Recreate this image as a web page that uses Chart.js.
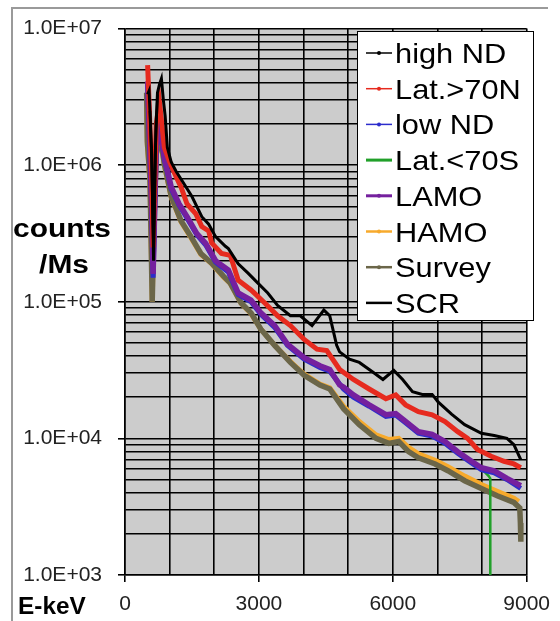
<!DOCTYPE html>
<html>
<head>
<meta charset="utf-8">
<script src="https://cdn.jsdelivr.net/npm/chart.js@4.4.1/dist/chart.umd.min.js"></script>
<style>
  html, body { margin: 0; padding: 0; background: #fff; }
  #wrap { position: relative; width: 560px; height: 621px; }
</style>
</head>
<body>
<div id="wrap"><canvas id="spectrumChart" width="560" height="621"></canvas></div>
<script>
// Energy (keV) and rate (counts/Ms), one pair of arrays per series
const highNdKeV = [507, 540, 600, 640, 690, 728, 772, 816, 860, 900, 949, 1037, 1147, 1279, 1500, 1721, 1875, 2029, 2250, 2316, 2537, 2757, 2978, 3199, 3419, 3706, 3927, 4191, 4456, 4588, 4743, 4809, 5030, 5250, 5559, 5780, 6022, 6221, 6442, 6662, 6883, 7015, 7324, 7611, 7986, 8273, 8559, 8714, 8868];
const highNdCounts = [3.3e6, 3.5e6, 1.2e6, 2.0e5, 1.8e6, 3.4e6, 3.9e6, 4.3e6, 3.0e6, 2.3e6, 1.35e6, 1.05e6, 9.0e5, 7.7e5, 5.9e5, 4.2e5, 3.7e5, 3.0e5, 2.55e5, 2.45e5, 1.9e5, 1.62e5, 1.37e5, 1.16e5, 9.4e4, 7.9e4, 7.9e4, 6.7e4, 8.7e4, 7.9e4, 4.8e4, 4.3e4, 3.8e4, 3.6e4, 3.05e4, 2.7e4, 3.15e4, 2.7e4, 2.2e4, 2.1e4, 2.1e4, 1.85e4, 1.5e4, 1.26e4, 1.09e4, 1.05e4, 1.0e4, 9.0e3, 7.0e3];

const lat70nKeV = [507, 530, 600, 630, 700, 772, 882, 993, 1147, 1257, 1390, 1588, 1721, 1875, 1941, 2162, 2360, 2537, 2824, 3132, 3419, 3706, 4015, 4302, 4522, 4809, 5118, 5471, 5846, 6067, 6287, 6574, 6883, 7170, 7456, 7677, 7898, 8206, 8493, 8714, 8868];
const lat70nCounts = [5.4e6, 3.5e6, 8.0e5, 2.5e5, 2.0e6, 2.9e6, 1.35e6, 1.07e6, 8.2e5, 6.9e5, 5.2e5, 4.4e5, 3.55e5, 3.3e5, 2.7e5, 2.26e5, 2.19e5, 1.44e5, 1.22e5, 9.8e4, 7.9e4, 6.7e4, 5.3e4, 4.5e4, 4.4e4, 3.2e4, 2.7e4, 2.3e4, 1.95e4, 2.08e4, 1.76e4, 1.57e4, 1.49e4, 1.33e4, 1.12e4, 1.0e4, 8.3e3, 7.4e3, 6.8e3, 6.5e3, 6.1e3];

const lowNdKeV = [507, 530, 600, 630, 700, 772, 882, 1037, 1213, 1390, 1610, 1809, 2029, 2316, 2537, 2824, 3044, 3353, 3640, 4015, 4368, 4588, 4897, 5118, 5471, 5846, 6067, 6287, 6574, 6883, 7170, 7456, 7765, 7986, 8273, 8559, 8868];
const lowNdCounts = [4.0e6, 2.4e6, 4.8e5, 1.5e5, 1.35e6, 2.0e6, 1.1e6, 6.7e5, 5.1e5, 4.1e5, 3.1e5, 2.6e5, 1.95e5, 1.65e5, 1.13e5, 1.0e5, 8.1e4, 6.5e4, 4.8e4, 3.8e4, 3.3e4, 3.1e4, 2.3e4, 2.0e4, 1.72e4, 1.45e4, 1.48e4, 1.3e4, 1.09e4, 1.04e4, 9.2e3, 7.8e3, 6.6e3, 5.9e3, 5.6e3, 5.0e3, 4.3e3];

const lat70sKeV = [7456, 7765, 7986, 8150, 8184, 8186];
const lat70sCounts = [8.0e3, 6.8e3, 6.0e3, 5.3e3, 5.1e3, 100];

const lamoKeV = [507, 530, 600, 630, 700, 772, 882, 1037, 1213, 1390, 1610, 1809, 2029, 2096, 2316, 2537, 2824, 3044, 3353, 3640, 4015, 4368, 4588, 4809, 4897, 5118, 5471, 5846, 6067, 6287, 6574, 6883, 7170, 7456, 7765, 7986, 8273, 8559, 8868];
const lamoCounts = [4.1e6, 2.5e6, 5.0e5, 1.6e5, 1.4e6, 2.08e6, 1.14e6, 6.9e5, 5.2e5, 4.2e5, 3.16e5, 2.68e5, 2.0e5, 1.92e5, 1.71e5, 1.16e5, 1.03e5, 8.3e4, 6.7e4, 4.9e4, 3.9e4, 3.4e4, 3.2e4, 2.46e4, 2.38e4, 2.08e4, 1.76e4, 1.49e4, 1.52e4, 1.33e4, 1.12e4, 1.07e4, 9.5e3, 8.0e3, 6.8e3, 6.1e3, 5.8e3, 5.1e3, 4.5e3];

const hamoKeV = [485, 500, 560, 610, 650, 700, 772, 882, 1037, 1257, 1478, 1699, 1941, 2206, 2360, 2603, 2824, 3044, 3353, 3706, 4015, 4368, 4588, 4897, 5250, 5625, 5912, 6133, 6353, 6574, 6949, 7236, 7611, 7986, 8339, 8714, 8824];
const hamoCounts = [3.2e6, 1.4e6, 7.5e5, 1.0e5, 3.8e5, 1.15e6, 1.7e6, 1.0e6, 5.8e5, 3.85e5, 2.95e5, 2.22e5, 1.9e5, 1.52e5, 1.36e5, 9.7e4, 8.2e4, 6.3e4, 4.8e4, 3.65e4, 2.95e4, 2.5e4, 2.35e4, 1.72e4, 1.33e4, 1.06e4, 9.8e3, 1.0e4, 8.6e3, 7.7e3, 6.9e3, 6.2e3, 5.3e3, 4.6e3, 4.1e3, 3.65e3, 3.45e3];

const surveyKeV = [485, 500, 560, 610, 650, 700, 772, 882, 1037, 1257, 1478, 1699, 1941, 2206, 2360, 2603, 2824, 3044, 3353, 3706, 4015, 4368, 4588, 4897, 5250, 5625, 5912, 6133, 6353, 6574, 6949, 7236, 7611, 7986, 8339, 8714, 8846, 8860, 8870];
const surveyCounts = [3.4e6, 1.5e6, 8.0e5, 1.0e5, 4.0e5, 1.2e6, 1.76e6, 1.02e6, 5.9e5, 3.9e5, 3.0e5, 2.26e5, 1.92e5, 1.54e5, 1.37e5, 9.8e4, 8.3e4, 6.3e4, 4.8e4, 3.6e4, 2.9e4, 2.46e4, 2.3e4, 1.65e4, 1.26e4, 1.0e4, 9.2e3, 9.5e3, 8.0e3, 7.2e3, 6.5e3, 5.8e3, 4.9e3, 4.3e3, 3.8e3, 3.4e3, 3.1e3, 2.4e3, 1.75e3];

const scrKeV = [560, 600, 640, 680, 728];
const scrCounts = [2.5e6, 9.0e5, 2.2e5, 1.2e6, 3.3e6];

// axis ticks
const xTickLabels = [0, 3000, 6000, 9000];
const yDecades = [1e3, 1e4, 1e5, 1e6, 1e7];
const yTickLabels = ['1.0E+03', '1.0E+04', '1.0E+05', '1.0E+06', '1.0E+07'];
const yMinorSteps = [2, 3, 4, 5, 6, 7, 8, 9];

// gridline values: decades plus 2..9 in between
const yGridValues = [];
yDecades.forEach((d, i) => {
    yGridValues.push(d);
    if (i < yDecades.length - 1) yMinorSteps.forEach(m => yGridValues.push(d * m));
});

function toPoints(keV, counts) {
    return keV.map((x, i) => ({ x: x, y: counts[i] }));
}

function isDecade(v) {
    return yDecades.some(d => Math.abs(v - d) < d * 1e-6);
}

const FONT = '"Liberation Sans", Arial, sans-serif';

// gray plot area, outer frame and the free-standing titles
const backdropPlugin = {
    id: 'backdrop',
    beforeDraw(chart) {
        const { ctx, chartArea } = chart;
        ctx.save();
        ctx.fillStyle = '#fff';
        ctx.fillRect(0, 0, chart.width, chart.height);
        ctx.fillStyle = '#cccccc';
        ctx.fillRect(chartArea.left, chartArea.top, chartArea.right - chartArea.left, chartArea.bottom - chartArea.top);
        ctx.strokeStyle = '#9a9a9a';
        ctx.lineWidth = 2;
        ctx.beginPath();
        ctx.moveTo(12, chart.height);
        ctx.lineTo(12, 8);
        ctx.lineTo(548, 8);
        ctx.stroke();
        ctx.restore();
    },
    afterDraw(chart) {
        const ctx = chart.ctx;
        ctx.save();
        ctx.fillStyle = '#000';
        ctx.textBaseline = 'alphabetic';
        ctx.textAlign = 'center';
        ctx.font = 'bold 26px ' + FONT;
        [['counts', 62, 237], ['/Ms', 64, 273]].forEach(([t, x, y]) => {
            ctx.save();
            ctx.translate(x, y);
            ctx.scale(1.15, 1);
            ctx.fillText(t, 0, 0);
            ctx.restore();
        });
        ctx.textAlign = 'left';
        ctx.font = 'bold 23px ' + FONT;
        ctx.save();
        ctx.translate(18, 614);
        ctx.scale(1.06, 1);
        ctx.fillText('E-keV', 0, 0);
        ctx.restore();
        ctx.restore();
    }
};

// boxed legend sitting inside the top right of the plot
const boxLegendPlugin = {
    id: 'boxLegend',
    afterDraw(chart) {
        const ctx = chart.ctx;
        const box = { left: 357, top: 31, right: 534, bottom: 321 };
        ctx.save();
        ctx.fillStyle = '#fff';
        ctx.fillRect(box.left, box.top, box.right - box.left, box.bottom - box.top);
        ctx.strokeStyle = '#000';
        ctx.lineWidth = 1;
        ctx.strokeRect(box.left + 0.5, box.top + 0.5, box.right - box.left - 1, box.bottom - box.top - 1);
        chart.data.datasets.forEach((ds, i) => {
            const base = 63 + i * 35.7;
            const midY = base - 10;
            ctx.strokeStyle = ds.borderColor;
            ctx.lineWidth = ds.legendLine;
            ctx.beginPath();
            ctx.moveTo(366, midY);
            ctx.lineTo(392, midY);
            ctx.stroke();
            if (ds.legendDot) {
                ctx.fillStyle = ds.borderColor;
                ctx.beginPath();
                ctx.arc(379, midY, 2, 0, Math.PI * 2);
                ctx.fill();
            }
            ctx.save();
            ctx.translate(395, base);
            ctx.scale(1.1, 1);
            ctx.fillStyle = '#000';
            ctx.font = '28px ' + FONT;
            ctx.textAlign = 'left';
            ctx.fillText(ds.label, 0, 0);
            ctx.restore();
        });
        ctx.restore();
    }
};

function series(label, keV, counts, color, width, order, extra) {
    return Object.assign({
        label: label,
        data: toPoints(keV, counts),
        borderColor: color,
        backgroundColor: color,
        borderWidth: width,
        pointRadius: 0,
        tension: 0,
        order: order,
        legendLine: 1.5,
        legendDot: true
    }, extra || {});
}

const datasets = [
    series('high ND', highNdKeV, highNdCounts, '#000000', 3, 0),
    series('Lat.>70N', lat70nKeV, lat70nCounts, '#e62a1e', 5, 2),
    series('low ND', lowNdKeV, lowNdCounts, '#2c2ccc', 5, 4),
    series('Lat.<70S', lat70sKeV, lat70sCounts, '#21a02a', 2.5, 5, { legendLine: 3, legendDot: false }),
    series('LAMO', lamoKeV, lamoCounts, '#75209e', 5.5, 3, { legendLine: 3 }),
    series('HAMO', hamoKeV, hamoCounts, '#f7aa2c', 5, 7, { legendLine: 2.5 }),
    series('Survey', surveyKeV, surveyCounts, '#6b6649', 5.5, 6, { legendLine: 2.5 }),
    series('SCR', scrKeV, scrCounts, '#000000', 2.5, 1, { legendLine: 2.5, legendDot: false })
];

const chart = new Chart(document.getElementById('spectrumChart'), {
    type: 'line',
    data: { datasets: datasets },
    plugins: [backdropPlugin, boxLegendPlugin],
    options: {
        responsive: false,
        animation: false,
        layout: { padding: { top: 23, right: 27, left: 0, bottom: 0 } },
        plugins: { legend: { display: false }, tooltip: { enabled: false } },
        scales: {
            x: {
                type: 'linear',
                min: 0,
                max: 9000,
                afterFit: (scale) => { scale.height = 46; },
                border: { color: '#000', width: 1.5 },
                grid: {
                    color: '#000',
                    lineWidth: 1.6,
                    tickLength: 7,
                    tickColor: (c) => (xTickLabels.includes(c.tick.value) ? '#000' : 'rgba(0,0,0,0)')
                },
                ticks: {
                    stepSize: 1000,
                    autoSkip: false,
                    maxRotation: 0,
                    padding: 10,
                    color: '#222',
                    font: { family: FONT, size: 21 },
                    callback: (v) => (xTickLabels.includes(v) ? String(v) : '')
                }
            },
            y: {
                type: 'logarithmic',
                min: 1e3,
                max: 1e7,
                afterFit: (scale) => { scale.width = 125; },
                afterBuildTicks: (axis) => { axis.ticks = yGridValues.map(v => ({ value: v })); },
                border: { color: '#000', width: 1.5 },
                grid: {
                    color: '#000',
                    lineWidth: 1.6,
                    tickLength: 7,
                    tickColor: (c) => (isDecade(c.tick.value) ? '#000' : 'rgba(0,0,0,0)')
                },
                ticks: {
                    autoSkip: false,
                    padding: 16,
                    color: '#222',
                    font: { family: FONT, size: 21 },
                    callback: (v) => {
                        const i = yDecades.findIndex(d => Math.abs(v - d) < d * 1e-6);
                        return i >= 0 ? yTickLabels[i] : '';
                    }
                }
            }
        }
    }
});
</script>
</body>
</html>
